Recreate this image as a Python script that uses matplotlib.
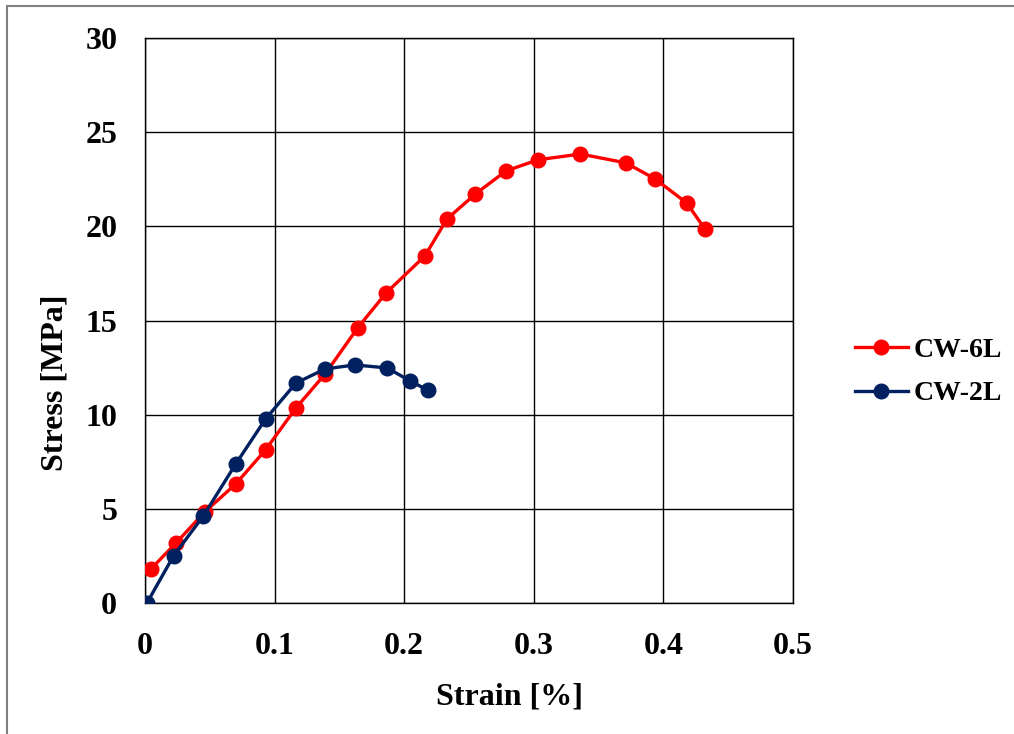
import matplotlib
matplotlib.use("Agg")
import matplotlib.pyplot as plt
from matplotlib.patches import Rectangle

strain_6l = [0.0046, 0.024, 0.046, 0.070, 0.093, 0.1165, 0.139, 0.164, 0.186, 0.216,
             0.233, 0.255, 0.2785, 0.303, 0.336, 0.371, 0.3935, 0.418, 0.432]
stress_6l = [1.81, 3.19, 4.83, 6.32, 8.13, 10.36, 12.16, 14.6, 16.46, 18.43,
             20.39, 21.72, 22.94, 23.53, 23.84, 23.37, 22.52, 21.24, 19.86]
strain_2l = [0.0015, 0.022, 0.045, 0.070, 0.093, 0.1165, 0.139, 0.162, 0.187, 0.2045, 0.218]
stress_2l = [0.0, 2.5, 4.62, 7.38, 9.77, 11.68, 12.43, 12.64, 12.48, 11.79, 11.31]

xticks = [0, 0.1, 0.2, 0.3, 0.4, 0.5]
xticklabels = ["0", "0.1", "0.2", "0.3", "0.4", "0.5"]
yticks = [0, 5, 10, 15, 20, 25, 30]

plt.rcParams['font.family'] = ['Liberation Serif', 'DejaVu Serif']
plt.rcParams['font.weight'] = 'bold'

fig = plt.figure(figsize=(10.14, 7.34), dpi=100)
ax = fig.add_axes([145/1014, 1-603/734, (793-145)/1014, (603-38)/734])

ax.plot(strain_6l, stress_6l, color='#ff0000', lw=2.4, marker='o', ms=10.5, label='CW-6L', zorder=3)
ax.plot(strain_2l, stress_2l, color='#002060', lw=2.4, marker='o', ms=10.5, label='CW-2L', zorder=4)

ax.set_xlim(0, 0.5)
ax.set_ylim(0, 30)
ax.set_xticks(xticks)
ax.set_xticklabels(xticklabels)
ax.set_yticks(yticks)
ax.tick_params(axis='both', length=0, labelsize=23)
ax.tick_params(axis='y', pad=20)
ax.tick_params(axis='x', pad=21)
for lbl in ax.get_xticklabels() + ax.get_yticklabels():
    lbl.set_fontweight('bold')
ax.grid(True, color='#000000', lw=1.0)
ax.set_axisbelow(True)
for s in ax.spines.values():
    s.set_color('#000000')
    s.set_linewidth(1.0)

fig.text(510/1014, 1-697/734, 'Strain [%]', fontsize=23, fontweight='bold', ha='center', va='center')
fig.text(55/1014, 1-383/734, 'Stress [MPa]', fontsize=23, fontweight='bold', ha='center', va='center',
         rotation=90)

leg = fig.legend(loc='center left', bbox_to_anchor=(830/1014, 1-372/734), frameon=False,
                 handlelength=1.9, handletextpad=0.2, labelspacing=0.65,
                 prop={'weight': 'bold', 'size': 20})

fig.patches.append(Rectangle((7/1014, -0.1), 1.2, 1-6/734+0.1, transform=fig.transFigure,
                             fill=False, edgecolor='#808080', lw=1.5, zorder=10))

fig.savefig('out.png', dpi=100)
